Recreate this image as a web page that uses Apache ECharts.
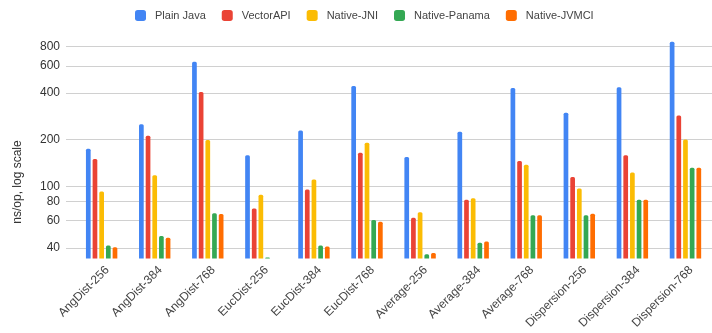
<!DOCTYPE html>
<html>
<head>
<meta charset="utf-8">
<script src="https://cdn.jsdelivr.net/npm/echarts@6/dist/echarts.min.js"></script>
<style>
  html, body { margin: 0; padding: 0; background: #fff; }
  #chart { width: 712px; height: 333px; }
</style>
</head>
<body>
<div id="chart"></div>
<script>
// Benchmark cases (x axis)
const categories = [
  'AngDist-256', 'AngDist-384', 'AngDist-768',
  'EucDist-256', 'EucDist-384', 'EucDist-768',
  'Average-256', 'Average-384', 'Average-768',
  'Dispersion-256', 'Dispersion-384', 'Dispersion-768'
];

// ns/op per implementation
const plainJava   = [174, 251, 638, 158, 228, 443, 154, 224, 430, 298, 436, 859];
const vectorApi   = [149, 211, 406, 71.4, 94.6, 164, 62.1, 81.2, 145, 114, 158, 286];
const nativeJni   = [92, 117, 198, 87.5, 110, 190, 67.3, 83.2, 137, 96, 122, 200];
const nativePanama = [41, 47.2, 66.5, 34.3, 41, 60, 36, 42.8, 64.5, 64.5, 81.2, 131];
const nativeJvmci = [40, 46.1, 65.6, 33, 40.4, 58.5, 36.7, 43.5, 64.5, 65.9, 81.2, 131];

const seriesNames = ['Plain Java', 'VectorAPI', 'Native-JNI', 'Native-Panama', 'Native-JVMCI'];
const seriesValues = [plainJava, vectorApi, nativeJni, nativePanama, nativeJvmci];
const seriesColors = ['#4285F4', '#EA4335', '#FBBC04', '#34A853', '#FF6D01'];

// Y axis ticks (log scale)
const yTicks = [40, 60, 80, 100, 200, 400, 600, 800];
const yMin = 33.8;
const yMax = 900;
const yTitle = 'ns/op, log scale';

const FONT = '"Liberation Sans", Arial, sans-serif';
const GRID_TOP = 38.6;
const GRID_BOTTOM = 73.7;

const chart = echarts.init(document.getElementById('chart'), null, { renderer: 'canvas' });

const option = {
  animation: false,
  backgroundColor: '#fff',
  textStyle: { fontFamily: FONT },
  color: seriesColors,
  legend: {
    top: 10,
    left: 135,
    padding: 0,
    itemWidth: 11,
    itemHeight: 11,
    itemGap: 16,
    icon: 'roundRect',
    textStyle: { fontFamily: FONT, fontSize: 11, color: '#444', padding: [0, 0, 0, 4] },
    data: seriesNames
  },
  grid: [
    // bars
    { left: 75.1, right: -1.9, top: GRID_TOP, bottom: GRID_BOTTOM },
    // value scale with gridlines
    { left: 66, right: 0, top: GRID_TOP, bottom: GRID_BOTTOM }
  ],
  xAxis: [
    {
      gridIndex: 0,
      type: 'category',
      data: categories,
      axisLine: { show: false },
      axisTick: { show: false },
      axisLabel: {
        rotate: 45,
        margin: 4,
        interval: 0,
        verticalAlign: 'top',
        lineHeight: 16,
        fontFamily: FONT,
        fontSize: 12,
        color: '#444'
      }
    },
    {
      gridIndex: 1,
      type: 'value',
      min: 0,
      max: 1,
      show: false
    }
  ],
  yAxis: [
    {
      gridIndex: 0,
      type: 'log',
      logBase: 10,
      min: yMin,
      max: yMax,
      show: false,
      splitLine: { show: false }
    },
    {
      gridIndex: 1,
      type: 'log',
      logBase: 10,
      min: yMin,
      max: yMax,
      axisLine: { show: false },
      axisTick: { show: false, customValues: yTicks },
      axisLabel: {
        customValues: yTicks,
        margin: 6,
        fontFamily: FONT,
        fontSize: 12,
        color: '#333'
      },
      splitLine: { show: true, lineStyle: { color: '#d0d0d0', width: 1 } }
    }
  ],
  graphic: [
    {
      type: 'text',
      x: 17.5,
      y: 182,
      rotation: Math.PI / 2,
      style: {
        text: yTitle,
        fontFamily: FONT,
        fontSize: 12,
        fill: '#333',
        align: 'center',
        verticalAlign: 'middle'
      }
    }
  ],
  series: seriesNames.map((name, i) => ({
    name: name,
    type: 'bar',
    xAxisIndex: 0,
    yAxisIndex: 0,
    data: seriesValues[i],
    barWidth: 4.7,
    barGap: '42%',
    clip: true,
    itemStyle: { color: seriesColors[i], borderRadius: [1.5, 1.5, 0, 0] }
  }))
};

chart.setOption(option);
</script>
</body>
</html>
